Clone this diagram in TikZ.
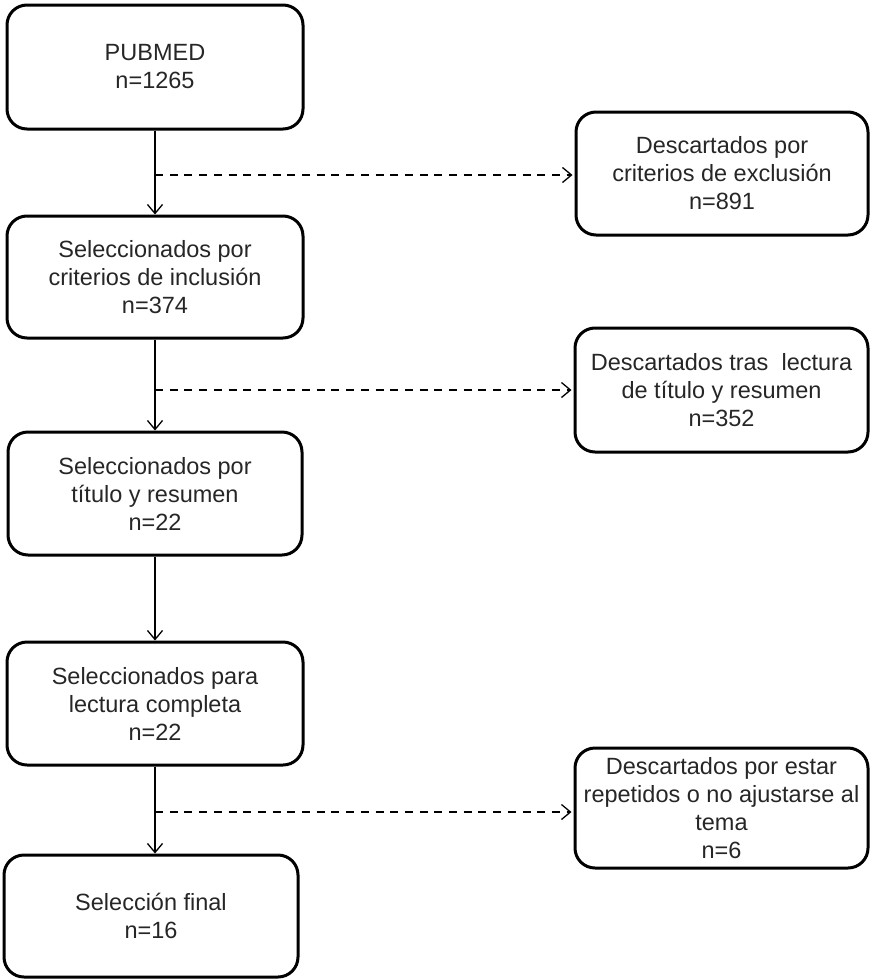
\documentclass[tikz,border=0pt]{standalone}
\usepackage{fontspec}
\setmainfont{Liberation Sans}
\usetikzlibrary{arrows.meta}
\begin{document}
\begin{tikzpicture}[x=1pt,y=-1pt,
  box/.style={draw, line width=3pt, rounded corners=20pt, align=center, inner sep=0pt,
    font=\fontsize{23.5}{28}\selectfont, text=black!85},
  flow/.style={line width=1.3pt, -{Straight Barb[length=9pt,width=15pt,line width=1.3pt]}},
  side/.style={flow, dash pattern=on 8pt off 6.7pt, shorten >=2pt}]
\useasboundingbox (0,0) rectangle (871,980);
\node[box, minimum width=296pt, minimum height=124pt] (b1) at (155,67) {PUBMED\\n=1265};
\node[box, minimum width=296pt, minimum height=122pt] (b2) at (155,277) {Seleccionados por\\criterios de inclusión\\n=374};
\node[box, minimum width=294pt, minimum height=123pt] (b3) at (155,493.5) {Seleccionados por\\título y resumen\\n=22};
\node[box, minimum width=296pt, minimum height=123pt] (b4) at (155,703.5) {Seleccionados para\\lectura completa\\n=22};
\node[box, minimum width=294pt, minimum height=122pt] (b5) at (151,916) {Selección final\\n=16};
\node[box, minimum width=292pt, minimum height=123pt] (r1) at (722,173.5) {Descartados por\\criterios de exclusión\\n=891};
\node[box, minimum width=293pt, minimum height=124pt] (r2) at (721.5,390) {Descartados tras~ lectura\\de título y resumen\\n=352};
\node[box, minimum width=293pt, minimum height=120pt] (r3) at (721.5,808) {Descartados por estar\\repetidos o no ajustarse al\\tema\\n=6};
\coordinate (c1) at (155,175);
\coordinate (c2) at (155,390);
\coordinate (c3) at (155,812);
\draw[flow] (b1.south) -- (b2.north);
\draw[flow] (b2.south) -- (b3.north);
\draw[flow] (b3.south) -- (b4.north);
\draw[flow] (b4.south) -- (b4.south |- b5.north);
\draw[side] (c1) -- (c1 -| r1.west);
\draw[side] (c2) -- (c2 -| r2.west);
\draw[side] (c3) -- (c3 -| r3.west);
\end{tikzpicture}
\end{document}
